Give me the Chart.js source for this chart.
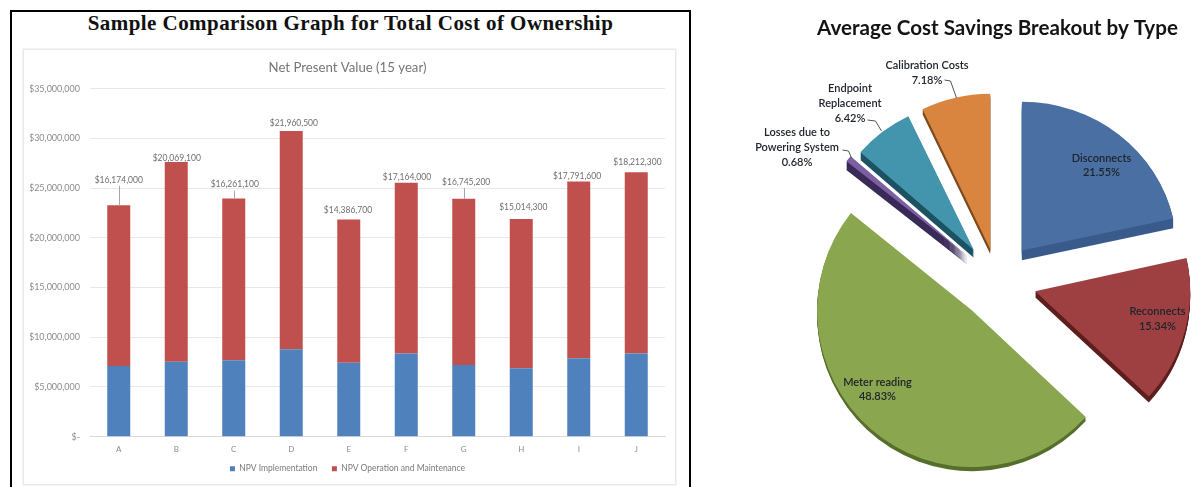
<!DOCTYPE html>
<html>
<head>
<meta charset="utf-8">
<title>Total Cost of Ownership and Cost Savings</title>
<script src="https://cdn.jsdelivr.net/npm/chart.js@4"></script>
<style>
  html, body { margin: 0; padding: 0; background: #fff; width: 1195px; height: 487px; overflow: hidden; }
  #frame { position: absolute; left: 10px; top: 10px; width: 677px; height: 500px; border: 2px solid #000; }
  #heading { position: absolute; left: 10px; top: 11px; width: 681px; text-align: center;
             font: bold 21px/24px "Liberation Serif", serif; color: #111; letter-spacing: 0.44px; }
  #barWrap { position: absolute; left: 24px; top: 50px; width: 651px; height: 434px;
             box-shadow: 0 0 0 1.5px #e9e9e9; }
  #pieChart { position: absolute; left: 700px; top: 0; }
  #barChart { display: block; }
</style>
</head>
<body>
<div id="frame"></div>
<div id="heading">Sample Comparison Graph for Total Cost of Ownership</div>
<div id="barWrap"><canvas id="barChart" width="651" height="434"></canvas></div>
<canvas id="pieChart" width="495" height="487"></canvas>
<script>
// Net present value per option, in dollars
const options15yr = ['A', 'B', 'C', 'D', 'E', 'F', 'G', 'H', 'I', 'J'];
const npvImplementation = [7100000, 7550000, 7700000, 8800000, 7450000, 8380000, 7200000, 6880000, 7890000, 8380000];
const npvOperation = [16174000, 20069100, 16261100, 21960500, 14386700, 17164000, 16745200, 15014300, 17791600, 18212300];

// Cost savings share per type, in percent
const savingTypes = ['Disconnects', 'Reconnects', 'Meter reading', 'Losses due to Powering System', 'Endpoint Replacement', 'Calibration Costs'];
const savingShares = [21.55, 15.34, 48.83, 0.68, 6.42, 7.18];

const money = v => v === 0 ? '$-' : '$' + v.toLocaleString('en-US');
const smallFont = 'Lato, "Open Sans", sans-serif';

// Value callouts above each stack: text offset from the top of the bar, and an optional leader line
const callouts = [
  { dx: 0, dy: -25.5, leader: true }, { dx: 0.5, dy: -4.3 }, { dx: 1, dy: -14, leader: true },
  { dx: 2.6, dy: -7.3 }, { dx: -0.8, dy: -9 }, { dx: 0.7, dy: -5.3 },
  { dx: 2.4, dy: -16.7, leader: true }, { dx: 2, dy: -11.7 }, { dx: -1.7, dy: -4.7 }, { dx: 1.2, dy: -10.3 }
];

const barCallouts = {
  id: 'barCallouts',
  afterDatasetsDraw(chart) {
    const { ctx } = chart;
    const bars = chart.getDatasetMeta(1).data;
    ctx.save();
    ctx.font = '8.5px ' + smallFont;
    ctx.textAlign = 'center';
    ctx.textBaseline = 'middle';
    bars.forEach((bar, i) => {
      const c = callouts[i];
      if (c.leader) {
        ctx.strokeStyle = '#a6a6a6';
        ctx.lineWidth = 1;
        ctx.beginPath();
        ctx.moveTo(Math.round(bar.x) + 0.5, bar.y + c.dy + 6);
        ctx.lineTo(Math.round(bar.x) + 0.5, bar.y);
        ctx.stroke();
      }
      ctx.fillStyle = '#6f6f6f';
      ctx.fillText(money(npvOperation[i]), bar.x + c.dx, bar.y + c.dy);
    });
    ctx.restore();
  }
};

new Chart(document.getElementById('barChart'), {
  type: 'bar',
  data: {
    labels: options15yr,
    datasets: [
      { label: 'NPV Implementation', data: npvImplementation, backgroundColor: '#4F81BD' },
      { label: 'NPV Operation and Maintenance', data: npvOperation, backgroundColor: '#C0504D' }
    ]
  },
  plugins: [barCallouts],
  options: {
    responsive: false,
    animation: false,
    layout: { padding: { top: 10, right: 10, bottom: 1, left: 6 } },
    datasets: { bar: { categoryPercentage: 1, barPercentage: 0.4 } },
    scales: {
      x: {
        stacked: true,
        afterFit(scale) { scale.height = 22; },
        grid: { display: false, drawTicks: false },
        border: { color: '#d9d9d9' },
        ticks: { color: '#8c8c8c', font: { family: smallFont, size: 8 }, padding: 8, maxRotation: 0 }
      },
      y: {
        stacked: true,
        min: 0,
        max: 35000000,
        afterFit(scale) { scale.width = 60; },
        grid: { color: '#e8e8e8', drawTicks: false },
        border: { display: false },
        ticks: { stepSize: 5000000, color: '#8c8c8c', font: { family: smallFont, size: 9 }, padding: 10, callback: money }
      }
    },
    plugins: {
      title: {
        display: true,
        text: 'Net Present Value (15 year)',
        color: '#757575',
        font: { family: smallFont, size: 13.2, weight: 'normal' },
        padding: { top: 0, bottom: 12.9 }
      },
      legend: {
        position: 'bottom',
        labels: {
          boxWidth: 5,
          boxHeight: 5,
          color: '#7a7a7a',
          padding: 5.8,
          font: { family: smallFont, size: 8.5 },
          // Non-breaking spaces widen the gap between the two legend entries
          generateLabels(chart) {
            const items = Chart.defaults.plugins.legend.labels.generateLabels(chart);
            items[0].text += '\u00A0\u00A0\u00A0\u00A0';
            return items;
          }
        }
      },
      tooltip: { enabled: false }
    }
  }
});

// Per-slice look of the exploded pie: extruded edge colour, depth, pull-out distance and foreshortening
const sliceSides = ['#3A5B8C', '#5E1F1F', '#566F2C', '#3A2A58', '#1C5262', '#7E4B1E'];
const sliceDepths = [10, 6, 4, 9, 8, 5];
const sliceExplode = [39, 39, 39, 39, 39, 33];
const sliceScaleX = [1, 1, 1, 1, 0.97, 1];
const sliceScaleY = [0.96, 1, 1.01, 0.98, 0.96, 1];

// Pulls every slice out from the centre and gives it a thick edge before painting its top face
const explodedPie = {
  id: 'explodedPie',
  beforeDatasetDraw(chart, args) {
    const { ctx } = chart;
    args.meta.data.forEach((arc, i) => {
      const mid = (arc.startAngle + arc.endAngle) / 2;
      ctx.save();
      ctx.translate(Math.cos(mid) * sliceExplode[i], Math.sin(mid) * sliceExplode[i]);
      ctx.translate(arc.x, arc.y);
      ctx.scale(sliceScaleX[i], sliceScaleY[i]);
      ctx.translate(-arc.x, -arc.y);
      ctx.fillStyle = sliceSides[i];
      for (let d = sliceDepths[i]; d > 0; d--) {
        ctx.beginPath();
        ctx.moveTo(arc.x, arc.y + d);
        ctx.arc(arc.x, arc.y + d, arc.outerRadius, arc.startAngle, arc.endAngle);
        ctx.closePath();
        ctx.fill();
      }
      arc.draw(ctx);
      ctx.restore();
    });
    return false;
  }
};

// Slice captions, given as offsets from the pie centre, with leaders for the outside ones
const sliceCaptions = [
  { lines: ['Disconnects', '21.55%'], dx: 104, dy: -123, gap: 14 },
  { lines: ['Reconnects', '15.34%'], dx: 160, dy: 30, gap: 15 },
  { lines: ['Meter reading', '48.83%'], dx: -120, dy: 101, gap: 14 },
  { lines: ['Losses due to', 'Powering System', '0.68%'], dx: -200.5, dy: -149, gap: 15,
    leader: [[-155, -131], [-149, -130], [-146, -123]] },
  { lines: ['Endpoint', 'Replacement', '6.42%'], dx: -147.5, dy: -193, gap: 15,
    leader: [[-130, -161], [-122, -160], [-116, -150]] },
  { lines: ['Calibration Costs', '7.18%'], dx: -70.5, dy: -216, gap: 15,
    leader: [[-53, -201], [-47, -200], [-41, -183]] }
];

const pieCaptions = {
  id: 'pieCaptions',
  afterDatasetsDraw(chart) {
    const { ctx } = chart;
    const arc = chart.getDatasetMeta(0).data[0];
    ctx.save();
    ctx.font = '600 11px ' + smallFont;
    ctx.textAlign = 'center';
    ctx.textBaseline = 'middle';
    sliceCaptions.forEach(c => {
      if (c.leader) {
        ctx.strokeStyle = '#555';
        ctx.lineWidth = 1;
        ctx.beginPath();
        c.leader.forEach(([px, py], k) => {
          if (k === 0) ctx.moveTo(arc.x + px, arc.y + py);
          else ctx.lineTo(arc.x + px, arc.y + py);
        });
        ctx.stroke();
      }
      ctx.fillStyle = '#20242c';
      c.lines.forEach((line, k) => ctx.fillText(line, arc.x + c.dx, arc.y + c.dy + k * c.gap));
    });
    ctx.restore();
  }
};

new Chart(document.getElementById('pieChart'), {
  type: 'pie',
  data: {
    labels: savingTypes,
    datasets: [{
      data: savingShares,
      backgroundColor: ['#4A70A3', '#9E4042', '#8AA64E', '#7B5FA3', '#4395AE', '#D9853F'],
      borderWidth: 0
    }]
  },
  plugins: [explodedPie, pieCaptions],
  options: {
    responsive: false,
    animation: false,
    layout: { padding: { top: 15.65, right: 0, bottom: 51, left: 100 } },
    plugins: {
      title: {
        display: true,
        text: 'Average Cost Savings Breakout by Type',
        color: '#141414',
        font: { family: 'Lato, "Open Sans", sans-serif', size: 20.6, weight: 'bold' },
        padding: { top: 0, bottom: 85.65 }
      },
      legend: { display: false },
      tooltip: { enabled: false }
    }
  }
});
</script>
</body>
</html>
